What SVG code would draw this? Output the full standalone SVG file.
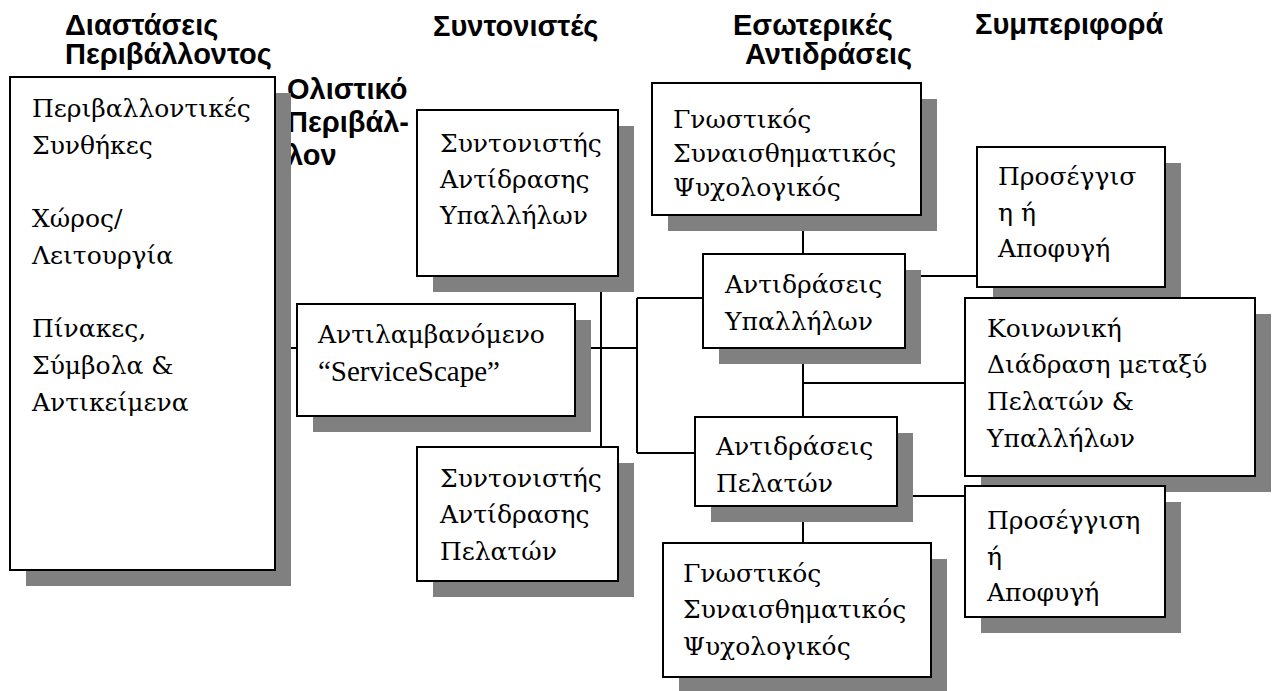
<svg xmlns="http://www.w3.org/2000/svg" width="1278" height="691" viewBox="0 0 1278 691">
<style>
.sh{fill:#808080}
.bx{fill:#fff;stroke:#000;stroke-width:2}
.t{font-family:"DejaVu Serif","Liberation Serif",serif;font-size:25px;fill:#000}
.lat{font-family:"Liberation Serif","Times New Roman",serif;font-size:29px}
.h{font-family:"Liberation Sans",Arial,sans-serif;font-size:29px;font-weight:bold;fill:#000}
.ln{stroke:#000;stroke-width:2;fill:none}
</style>
<rect width="1278" height="691" fill="#fff"/>
<g id="headers">
<text class="h" x="65" y="35">Διαστάσεις</text>
<text class="h" x="65" y="64">Περιβάλλοντος</text>
<text class="h" x="433" y="36">Συντονιστές</text>
<text class="h" x="733" y="35">Εσωτερικές</text>
<text class="h" x="745" y="64">Αντιδράσεις</text>
<text class="h" x="975" y="34">Συμπεριφορά</text>
<text class="h" x="287" y="99">Ολιστικό</text>
<text class="h" x="287" y="132">Περιβάλ-</text>
<text class="h" x="287" y="165">λον</text>
</g>
<g id="connectors">
<path class="ln" d="M275 348H297M575 348H637M637 298V453M637 298H703M637 453H695M601 276V447M803 215V254M803 348V417M803 383H965M905 276H977M897 496H965M803 506V543"/>
</g>
<g id="env">
<rect class="sh" x="26" y="93" width="265" height="493"/>
<rect class="bx" x="10" y="77" width="265" height="493"/>
<text class="t"><tspan x="32" y="117">Περιβαλλοντικές</tspan><tspan x="32" y="154">Συνθήκες</tspan><tspan x="32" y="227">Χώρος/</tspan><tspan x="32" y="264">Λειτουργία</tspan><tspan x="32" y="337">Πίνακες,</tspan><tspan x="32" y="374">Σύμβολα &amp;</tspan><tspan x="32" y="411">Αντικείμενα</tspan></text>
</g>
<g id="servicescape">
<rect class="sh" x="313" y="320" width="278" height="112"/>
<rect class="bx" x="297" y="304" width="278" height="112"/>
<text class="t"><tspan x="318" y="343">Αντιλαμβανόμενο</tspan><tspan class="lat" x="318" y="381">“ServiceScape”</tspan></text>
</g>
<g id="mod-emp">
<rect class="sh" x="433" y="126" width="201" height="166"/>
<rect class="bx" x="417" y="110" width="201" height="166"/>
<text class="t"><tspan x="440" y="152">Συντονιστής</tspan><tspan x="440" y="188">Αντίδρασης</tspan><tspan x="440" y="224">Υπαλλήλων</tspan></text>
</g>
<g id="mod-cust">
<rect class="sh" x="433" y="463" width="201" height="134"/>
<rect class="bx" x="417" y="447" width="201" height="134"/>
<text class="t"><tspan x="440" y="487">Συντονιστής</tspan><tspan x="440" y="523">Αντίδρασης</tspan><tspan x="440" y="560">Πελατών</tspan></text>
</g>
<g id="internal-emp">
<rect class="sh" x="668" y="99" width="269" height="132"/>
<rect class="bx" x="652" y="83" width="269" height="132"/>
<text class="t"><tspan x="673" y="128">Γνωστικός</tspan><tspan x="673" y="162">Συναισθηματικός</tspan><tspan x="673" y="196">Ψυχολογικός</tspan></text>
</g>
<g id="resp-emp">
<rect class="sh" x="719" y="270" width="202" height="94"/>
<rect class="bx" x="703" y="254" width="202" height="94"/>
<text class="t"><tspan x="725" y="293">Αντιδράσεις</tspan><tspan x="725" y="330">Υπαλλήλων</tspan></text>
</g>
<g id="resp-cust">
<rect class="sh" x="711" y="433" width="202" height="89"/>
<rect class="bx" x="695" y="417" width="202" height="89"/>
<text class="t"><tspan x="716" y="455">Αντιδράσεις</tspan><tspan x="716" y="492">Πελατών</tspan></text>
</g>
<g id="internal-cust">
<rect class="sh" x="679" y="559" width="268" height="134"/>
<rect class="bx" x="663" y="543" width="268" height="134"/>
<text class="t"><tspan x="683" y="582">Γνωστικός</tspan><tspan x="683" y="618">Συναισθηματικός</tspan><tspan x="683" y="655">Ψυχολογικός</tspan></text>
</g>
<g id="approach-emp">
<rect class="sh" x="993" y="163" width="188" height="140"/>
<rect class="bx" x="977" y="147" width="188" height="140"/>
<text class="t"><tspan x="998" y="185">Προσέγγισ</tspan><tspan x="998" y="221">η ή</tspan><tspan x="998" y="257">Αποφυγή</tspan></text>
</g>
<g id="social">
<rect class="sh" x="981" y="314" width="290" height="178"/>
<rect class="bx" x="965" y="298" width="290" height="178"/>
<text class="t"><tspan x="987" y="337">Κοινωνική</tspan><tspan x="987" y="373">Διάδραση μεταξύ</tspan><tspan x="987" y="410">Πελατών &amp;</tspan><tspan x="987" y="447">Υπαλλήλων</tspan></text>
</g>
<g id="approach-cust">
<rect class="sh" x="981" y="502" width="200" height="131"/>
<rect class="bx" x="965" y="486" width="200" height="131"/>
<text class="t"><tspan x="987" y="529">Προσέγγιση</tspan><tspan x="987" y="565">ή</tspan><tspan x="987" y="601">Αποφυγή</tspan></text>
</g>
</svg>
